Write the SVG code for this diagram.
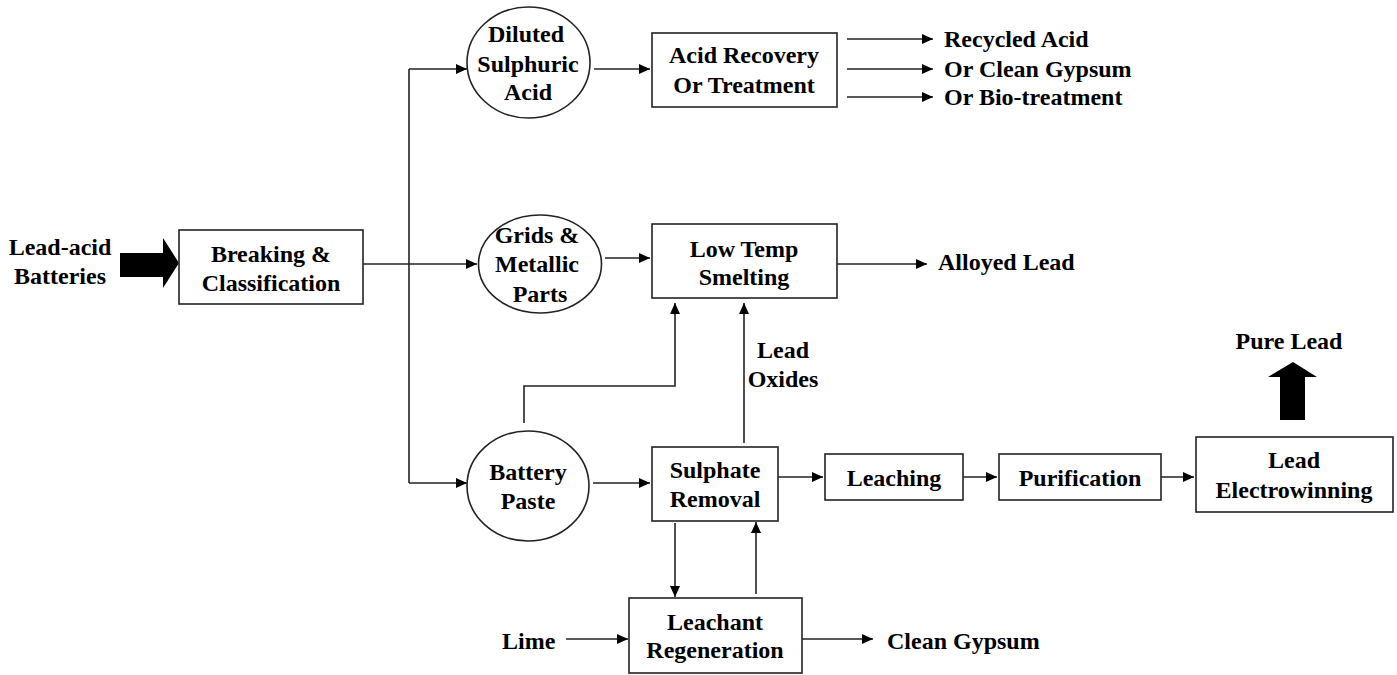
<svg xmlns="http://www.w3.org/2000/svg" width="1397" height="675" viewBox="0 0 1397 675">
<defs>
<marker id="ah" markerUnits="userSpaceOnUse" markerWidth="12" markerHeight="10" refX="11" refY="5" orient="auto">
<path d="M0,0 L11,5 L0,10 z" fill="#000"/>
</marker>
<style>
.box{fill:#fff;stroke:#222;stroke-width:1.6}
.t{font-family:"Liberation Serif","Times New Roman",serif;font-weight:bold;font-size:24px;fill:#000}
.c{text-anchor:middle}
.ln{fill:none;stroke:#222;stroke-width:1.6}
.a{fill:none;stroke:#222;stroke-width:1.6;marker-end:url(#ah)}
</style>
</defs>
<rect width="1397" height="675" fill="#fff"/>

<g id="connectors">
<polygon points="120,253 163,253 163,238 179,263 163,288 163,277 120,277" fill="#000"/>
<line class="a" x1="363" y1="264" x2="477" y2="264"/>
<line class="ln" x1="409" y1="69" x2="409" y2="483"/>
<line class="a" x1="409" y1="69" x2="467" y2="69"/>
<line class="a" x1="409" y1="483" x2="467" y2="483"/>
<line class="a" x1="594" y1="69" x2="650" y2="69"/>
<line class="a" x1="847" y1="39" x2="933" y2="39"/>
<line class="a" x1="847" y1="69" x2="933" y2="69"/>
<line class="a" x1="847" y1="97" x2="933" y2="97"/>
<line class="a" x1="605" y1="258" x2="650" y2="258"/>
<line class="a" x1="837" y1="264" x2="927" y2="264"/>
<path class="a" d="M524,423 V386 H675 V303"/>
<line class="a" x1="744" y1="443" x2="744" y2="303"/>
<line class="a" x1="593" y1="483" x2="650" y2="483"/>
<line class="a" x1="778" y1="477" x2="823" y2="477"/>
<line class="a" x1="963" y1="477" x2="997" y2="477"/>
<line class="a" x1="1161" y1="477" x2="1194" y2="477"/>
<line class="a" x1="675" y1="523" x2="675" y2="597"/>
<line class="a" x1="756" y1="594" x2="756" y2="522"/>
<line class="a" x1="566" y1="639" x2="628" y2="639"/>
<line class="a" x1="802" y1="639" x2="873" y2="639"/>
<polygon points="1280,420 1280,377 1268,377 1293,362 1317,377 1305,377 1305,420" fill="#000"/>
</g>

<g id="lead-acid-batteries">
<text class="t c" x="60" y="255">Lead-acid</text>
<text class="t c" x="60" y="284">Batteries</text>
</g>

<g id="breaking">
<rect class="box" x="179" y="230" width="184" height="74"/>
<text class="t c" x="271" y="262">Breaking &amp;</text>
<text class="t c" x="271" y="291">Classification</text>
</g>

<g id="diluted-acid">
<ellipse class="box" cx="528.5" cy="62.5" rx="61.5" ry="55.5"/>
<text class="t c" x="526" y="42">Diluted</text>
<text class="t c" x="528" y="72">Sulphuric</text>
<text class="t c" x="528" y="100">Acid</text>
</g>

<g id="acid-recovery">
<rect class="box" x="652" y="33" width="185" height="74"/>
<text class="t c" x="744" y="63">Acid Recovery</text>
<text class="t c" x="744" y="93">Or Treatment</text>
</g>

<g id="acid-outputs">
<text class="t" x="944" y="47">Recycled Acid</text>
<text class="t" x="944" y="77">Or Clean Gypsum</text>
<text class="t" x="944" y="105">Or Bio-treatment</text>
</g>

<g id="grids">
<ellipse class="box" cx="540" cy="264" rx="61.5" ry="49"/>
<text class="t c" x="537" y="243">Grids &amp;</text>
<text class="t c" x="537" y="272">Metallic</text>
<text class="t c" x="540" y="302">Parts</text>
</g>

<g id="low-temp">
<rect class="box" x="652" y="224" width="185" height="74"/>
<text class="t c" x="744" y="257">Low Temp</text>
<text class="t c" x="744" y="285">Smelting</text>
</g>

<g id="alloyed-lead">
<text class="t" x="938" y="270">Alloyed Lead</text>
</g>

<g id="battery-paste">
<ellipse class="box" cx="528" cy="486" rx="61" ry="55"/>
<text class="t c" x="528" y="480">Battery</text>
<text class="t c" x="528" y="509">Paste</text>
</g>

<g id="lead-oxides">
<text class="t c" x="783" y="358">Lead</text>
<text class="t c" x="783" y="387">Oxides</text>
</g>

<g id="sulphate-removal">
<rect class="box" x="652" y="447" width="126" height="74"/>
<text class="t c" x="715" y="478">Sulphate</text>
<text class="t c" x="715" y="507">Removal</text>
</g>

<g id="leaching">
<rect class="box" x="825" y="454" width="138" height="46"/>
<text class="t c" x="894" y="486">Leaching</text>
</g>

<g id="purification">
<rect class="box" x="999" y="454" width="162" height="46"/>
<text class="t c" x="1080" y="486">Purification</text>
</g>

<g id="electrowinning">
<rect class="box" x="1196" y="437" width="197" height="75"/>
<text class="t c" x="1294" y="468">Lead</text>
<text class="t c" x="1294" y="498">Electrowinning</text>
</g>

<g id="pure-lead">
<text class="t c" x="1289" y="349">Pure Lead</text>
</g>

<g id="leachant">
<rect class="box" x="629" y="598" width="173" height="75"/>
<text class="t c" x="715" y="630">Leachant</text>
<text class="t c" x="715" y="658">Regeneration</text>
</g>

<g id="lime">
<text class="t" x="502" y="649">Lime</text>
</g>

<g id="clean-gypsum">
<text class="t" x="887" y="649">Clean Gypsum</text>
</g>
</svg>
